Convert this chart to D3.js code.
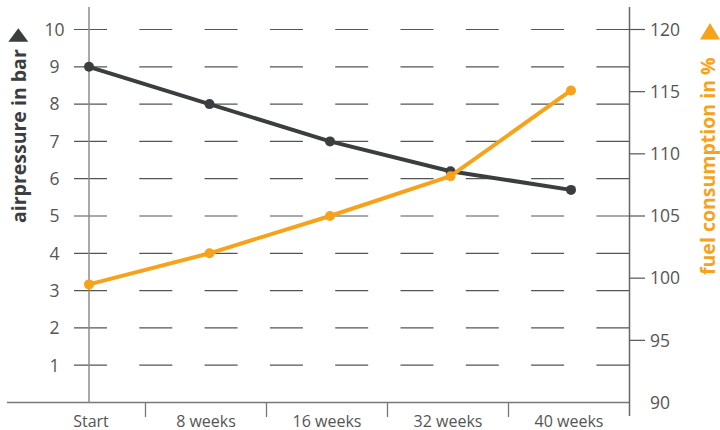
<!DOCTYPE html>
<html>
<head>
<meta charset="utf-8">
<script src="https://cdn.jsdelivr.net/npm/d3@7"></script>
<style>
  html, body { margin: 0; padding: 0; background: #fff; }
  svg { display: block; }
  text { font-family: "Open Sans", "DejaVu Sans", sans-serif; }
</style>
</head>
<body>
<svg id="chart" width="720" height="430"></svg>
<script>
// ---- data ----
const categories = ["Start", "8 weeks", "16 weeks", "32 weeks", "40 weeks"];
const airPressure = [9, 8, 7, 6.2, 5.7];          // bar (left axis)
const fuelConsumption = [99.5, 102, 105, 108.2, 115.1]; // % (right axis)
const leftTicks = [1, 2, 3, 4, 5, 6, 7, 8, 9, 10];
const rightTicks = [90, 95, 100, 105, 110, 115, 120];
const leftTitle = "airpressure in bar";
const rightTitle = "fuel consumption in %";

// ---- layout ----
const svg = d3.select("#chart");
const axisX = 89, rightX = 629.5, topY = 7, baseY = 402.5;
const darkColor = "#3b3e40", orangeColor = "#f6a31b", tickColor = "#555";

const yL = d3.scaleLinear().domain([0, 10]).range([baseY, 29.5]);
const yR = d3.scaleLinear().domain([90, 120]).range([baseY, 29.5]);
const xBand = d3.scaleBand().domain(categories).range([24.5, rightX]);
const xPt = d3.scalePoint().domain(categories).range([axisX, 571]);

// dashed grid lines (first dash doubles as left tick)
svg.append("g").selectAll("line").data(leftTicks).join("line")
  .attr("x1", 74).attr("x2", rightX)
  .attr("y1", d => yL(d)).attr("y2", d => yL(d))
  .attr("stroke", tickColor).attr("stroke-width", 1.2)
  .attr("stroke-dasharray", "33 32.3");

// baseline
svg.append("line").attr("x1", 7).attr("x2", rightX)
  .attr("y1", baseY).attr("y2", baseY)
  .attr("stroke", "#777").attr("stroke-width", 1.3);

// left axis line
svg.append("line").attr("x1", axisX).attr("x2", axisX)
  .attr("y1", topY).attr("y2", baseY)
  .attr("stroke", "#8c8c8c").attr("stroke-width", 1.5);

// right axis line
svg.append("line").attr("x1", rightX).attr("x2", rightX)
  .attr("y1", topY).attr("y2", 416)
  .attr("stroke", "#666").attr("stroke-width", 1.5);

// right ticks
svg.append("g").selectAll("line").data(rightTicks.filter(d => d > 90)).join("line")
  .attr("x1", rightX).attr("x2", 645)
  .attr("y1", d => yR(d)).attr("y2", d => yR(d))
  .attr("stroke", tickColor).attr("stroke-width", 1.2);

// category dividers
const dividers = categories.slice(1).map(c => xBand(c));
svg.append("g").selectAll("line").data(dividers).join("line")
  .attr("x1", d => d).attr("x2", d => d)
  .attr("y1", baseY).attr("y2", 417)
  .attr("stroke", "#777").attr("stroke-width", 1.3);

// left tick labels
svg.append("g").selectAll("text").data(leftTicks).join("text")
  .attr("x", 54.5).attr("y", d => yL(d)).attr("dy", "0.36em")
  .attr("text-anchor", "middle")
  .attr("font-size", 17.5).attr("fill", tickColor)
  .text(d => d);

// right tick labels
svg.append("g").selectAll("text").data(rightTicks).join("text")
  .attr("x", 650).attr("y", d => yR(d)).attr("dy", "0.36em")
  .attr("text-anchor", "start")
  .attr("font-size", 17.5).attr("fill", tickColor)
  .text(d => d);

// category labels
svg.append("g").selectAll("text").data(categories).join("text")
  .attr("x", d => xBand(d) + xBand.bandwidth() / 2 + (d === "Start" ? 6 : 0))
  .attr("y", 426.5)
  .attr("text-anchor", "middle")
  .attr("font-size", 16).attr("fill", tickColor)
  .text(d => d);

// axis titles
svg.append("text")
  .attr("transform", "translate(26,223) rotate(-90)")
  .attr("text-anchor", "start")
  .attr("font-size", 19.5).attr("font-weight", "bold").attr("fill", darkColor)
  .text(leftTitle);
svg.append("text")
  .attr("transform", "translate(714.5,275) rotate(-90)")
  .attr("text-anchor", "start")
  .attr("font-size", 19.5).attr("font-weight", "bold").attr("fill", orangeColor)
  .text(rightTitle);

// triangles
function tri(cx, top, w, h) {
  const p = d3.path();
  p.moveTo(cx, top); p.lineTo(cx + w / 2, top + h); p.lineTo(cx - w / 2, top + h); p.closePath();
  return p.toString();
}
svg.append("path").attr("d", tri(18.3, 28.3, 20, 13.4)).attr("fill", darkColor);
svg.append("path").attr("d", tri(710, 23, 20, 16.5)).attr("fill", orangeColor);

// series
const series = [
  { values: airPressure, y: yL, color: darkColor },
  { values: fuelConsumption, y: yR, color: orangeColor }
];
const line = d3.line();
series.forEach(s => {
  const pts = categories.map((c, i) => [xPt(c), s.y(s.values[i])]);
  svg.append("path").attr("d", line(pts))
    .attr("fill", "none").attr("stroke", s.color).attr("stroke-width", 4)
    .attr("stroke-linejoin", "round");
  svg.append("g").selectAll("circle").data(pts).join("circle")
    .attr("cx", d => d[0]).attr("cy", d => d[1]).attr("r", 5)
    .attr("fill", s.color);
});
</script>
</body>
</html>
